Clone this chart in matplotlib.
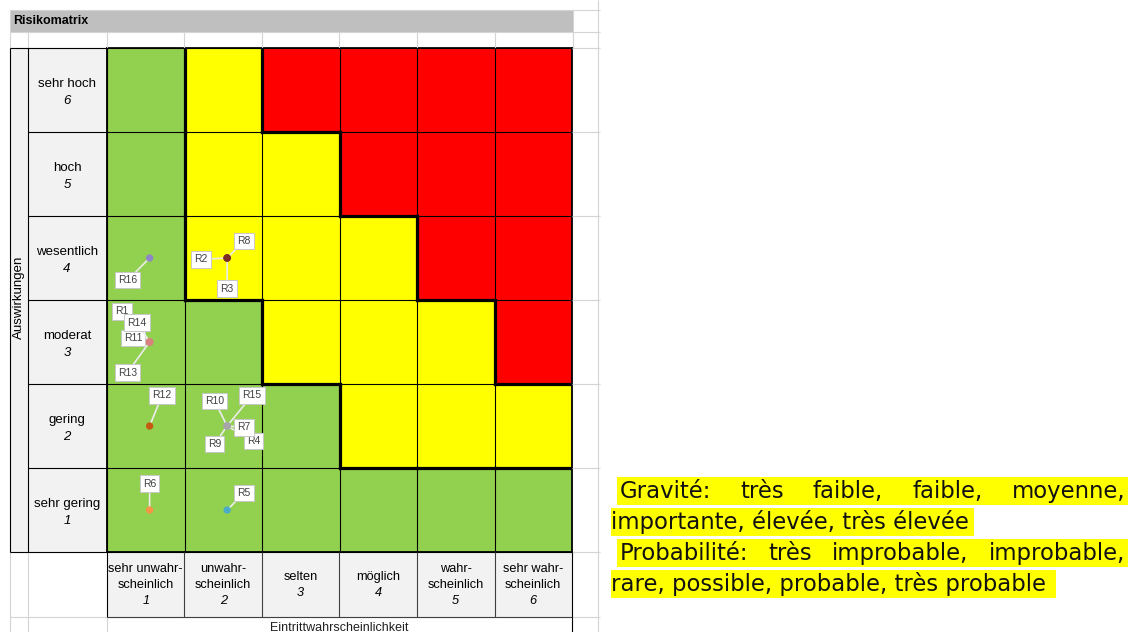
import numpy as np
import matplotlib
matplotlib.use('Agg')
import matplotlib.pyplot as plt
from matplotlib.transforms import Affine2D, blended_transform_factory
from matplotlib.lines import Line2D
from matplotlib.patches import Rectangle
from matplotlib.colors import ListedColormap

W, H = 1132, 632   # Size of the picture in pixels

# Axis categories (index 0 = level 1)
IMPACT_NAMES = ['sehr gering', 'gering', 'moderat', 'wesentlich', 'hoch', 'sehr hoch']
PROB_NAMES = ['sehr unwahr-\nscheinlich', 'unwahr-\nscheinlich', 'selten', 'möglich',
              'wahr-\nscheinlich', 'sehr wahr-\nscheinlich']

# Zone of every cell: rows = impact 1..6, columns = probability 1..6
# 0 = green, 1 = yellow, 2 = red
LEVELS = [
    [0, 0, 0, 0, 0, 0],
    [0, 0, 0, 1, 1, 1],
    [0, 0, 1, 1, 1, 2],
    [0, 1, 1, 1, 2, 2],
    [0, 1, 1, 2, 2, 2],
    [0, 1, 2, 2, 2, 2],
]

# The risks placed on the matrix
RISKS = ['R1', 'R2', 'R3', 'R4', 'R5', 'R6', 'R7', 'R8', 'R9', 'R10',
         'R11', 'R12', 'R13', 'R14', 'R15', 'R16']
RISK_PROB = [1, 2, 2, 2, 2, 1, 2, 2, 2, 2, 1, 1, 1, 1, 2, 1]
RISK_IMPACT = [3, 4, 4, 2, 1, 1, 2, 4, 2, 2, 3, 2, 3, 3, 2, 4]

NOTE_LINES = ['Gravité: très faible, faible, moyenne,',
              'importante, élevée, très élevée',
              'Probabilité: très improbable, improbable,',
              'rare, possible, probable, très probable']

# Styles
ZONE_COLORS = ['#92d050', '#ffff00', '#ff0000']
RISK_COLORS = {'R1': '#d9827f', 'R11': '#d9827f', 'R13': '#d9827f', 'R14': '#d9827f',
               'R2': '#7b2d26', 'R3': '#7b2d26', 'R8': '#7b2d26',
               'R4': '#a6a6a6', 'R7': '#a6a6a6', 'R9': '#a6a6a6', 'R10': '#a6a6a6',
               'R15': '#a6a6a6', 'R5': '#4bacc6', 'R6': '#f79646', 'R12': '#c55a11',
               'R16': '#8e86c6'}
# Label offsets from the point, in points
LABEL_OFFSETS = {'R16': (-16, -16), 'R2': (-19, -1), 'R8': (12, 12), 'R3': (0, -22),
                 'R1': (-20, 22), 'R14': (-9, 14), 'R11': (-12, 3), 'R13': (-16, -22),
                 'R12': (9, 22), 'R10': (-9, 18), 'R15': (18, 22), 'R7': (12, -1),
                 'R4': (19, -11), 'R9': (-9, -13), 'R6': (0, 19), 'R5': (12, 12)}
LIGHT = '#d4d4d4'
TABLE_FONT = 'Liberation Sans'
NOTE_FONT = 'DejaVu Sans'

fig = plt.figure(figsize=(W / 100, H / 100), dpi=100)
# Pixel coordinates with y going down, used for the spreadsheet frame
px = Affine2D().scale(1 / W, -1 / H).translate(0, 1) + fig.transFigure


def line(x0, y0, x1, y1, color='black', lw=0.8, z=1):
    fig.add_artist(Line2D([x0, x1], [y0, y1], transform=px, color=color, lw=lw,
                          zorder=z, solid_capstyle='butt'))


def box(x0, y0, x1, y1, color):
    fig.add_artist(Rectangle((x0, y0), x1 - x0, y1 - y0, transform=px,
                             facecolor=color, edgecolor='none', zorder=0))


# First, the spreadsheet frame around the matrix
box(10, 10, 573, 32, '#bfbfbf')
box(10, 48, 107, 552, '#f2f2f2')
box(107, 552, 572, 617, '#f2f2f2')
col_edges = [10, 28, 107, 184, 262, 339, 417, 495, 573]
for y in [10, 32, 48, 617]:
    line(10, y, 600, y, LIGHT)
for y in [132, 216, 300, 384, 468, 552]:
    line(572, y, 600, y, LIGHT)
for x in col_edges:
    line(x, 32, x, 48, LIGHT)
line(10, 10, 10, 32, LIGHT)
line(573, 10, 573, 32, LIGHT)
line(598, 0, 598, 632, LIGHT)
line(10, 552, 10, 632, LIGHT)
line(28, 552, 28, 632, LIGHT)
line(107, 617, 107, 632, LIGHT)

# Black borders of the label cells
line(10, 48, 572, 48)
line(10, 552, 572, 552)
line(10, 48, 10, 552)
line(28, 48, 28, 552)
line(107, 48, 107, 617)
line(572, 552, 572, 632)
line(107, 617, 572, 617, '#404040')
for x in col_edges[3:-1]:
    line(x, 552, x, 617, '#404040')
for y in [132, 216, 300, 384, 468]:
    line(28, y, 107, y)

fig.text(13, 21, 'Risikomatrix', transform=px, fontsize=9, fontweight='bold',
         family=TABLE_FONT, ha='left', va='center')
fig.text(19, 297, 'Auswirkungen', transform=px, fontsize=9.5, family=TABLE_FONT,
         rotation=90, ha='center', va='center')
fig.text(339, 628, 'Eintrittwahrscheinlichkeit', transform=px, fontsize=9,
         family=TABLE_FONT, ha='center', va='center', color='#202020')

# Now the matrix itself
ax = fig.add_axes([107 / W, (H - 552) / H, 465 / W, 504 / H])
ax.pcolormesh(np.arange(7), np.arange(7), np.array(LEVELS),
              cmap=ListedColormap(ZONE_COLORS), vmin=-0.5, vmax=2.5, zorder=0)
ax.set_xlim(0, 6)
ax.set_ylim(0, 6)
ax.set_xticks([])
ax.set_yticks([])
for s in ax.spines.values():
    s.set_color('black')
    s.set_linewidth(1.3)
ax.vlines(range(1, 6), 0, 6, color='black', lw=0.8, zorder=1)
ax.hlines(range(1, 6), 0, 6, color='black', lw=0.8, zorder=1)

# Thick lines where the zone changes
for r in range(6):
    for c in range(6):
        if c < 5 and LEVELS[r][c] != LEVELS[r][c + 1]:
            ax.plot([c + 1, c + 1], [r, r + 1], color='black', lw=2.3,
                    solid_capstyle='projecting', zorder=2)
        if r < 5 and LEVELS[r][c] != LEVELS[r + 1][c]:
            ax.plot([c, c + 1], [r + 1, r + 1], color='black', lw=2.3,
                    solid_capstyle='projecting', zorder=2)

# Row labels (impact) and column labels (probability)
row_trans = blended_transform_factory(px, ax.transData)
for i, name in enumerate(IMPACT_NAMES):
    ax.annotate(name, xy=(67, i + 0.5), xycoords=row_trans, xytext=(0, 4),
                textcoords='offset points', ha='center', va='center',
                fontsize=9.5, family=TABLE_FONT, annotation_clip=False)
    ax.annotate(str(i + 1), xy=(67, i + 0.5), xycoords=row_trans, xytext=(0, -8),
                textcoords='offset points', ha='center', va='center',
                fontsize=9.5, family=TABLE_FONT, style='italic', annotation_clip=False)

col_trans = blended_transform_factory(ax.transData, px)
for p, name in enumerate(PROB_NAMES):
    lines = name.split('\n') + [str(p + 1)]
    n = len(lines)
    for k, txt in enumerate(lines):
        dy = ((n - 1) / 2 - k) * 16.5 * 0.72
        ax.annotate(txt, xy=(p + 0.5, 585), xycoords=col_trans, xytext=(0, dy),
                    textcoords='offset points', ha='center', va='center',
                    fontsize=9.2, family=TABLE_FONT,
                    style='italic' if k == n - 1 else 'normal',
                    annotation_clip=False)

# The risks with their label boxes
xs = np.array(RISK_PROB) - 0.45
ys = np.array(RISK_IMPACT) - 0.5
for name, x, y in zip(RISKS, xs, ys):
    ax.annotate(name, xy=(x, y), xytext=LABEL_OFFSETS[name], textcoords='offset points',
                ha='center', va='center', fontsize=7.5, color='#404040',
                family=TABLE_FONT, zorder=4,
                bbox=dict(boxstyle='square,pad=0.3', fc='white', ec='#c8c8c8', lw=0.7),
                arrowprops=dict(arrowstyle='-', color='#ececec', lw=1.2,
                                shrinkA=0, shrinkB=0))
ax.scatter(xs, ys, s=28, c=[RISK_COLORS[n] for n in RISKS], zorder=6,
           edgecolors='none')

# Finally, the highlighted French note on the right
fig.canvas.draw()
renderer = fig.canvas.get_renderer()

# Pick the font size so the second line is as wide as in the original
probe = fig.text(0, 0, NOTE_LINES[1], fontsize=16, family=NOTE_FONT)
note_size = 16 * 358 / probe.get_window_extent(renderer).width
probe.remove()

for k, txt in enumerate(NOTE_LINES):
    yc = 491 + 31 * k
    base = yc + 7   # baseline of the line, in pixels from the top
    if k % 2 == 0:
        # Justified line between both edges
        box(617, yc - 14, 1128, yc + 14, '#ffff00')
        words = txt.split()
        items = [fig.text(0, base, w, transform=px, fontsize=note_size, family=NOTE_FONT,
                          ha='left', va='baseline', color='#111111') for w in words]
        widths = [t.get_window_extent(renderer).width for t in items]
        gap = (1125 - 620 - sum(widths)) / (len(words) - 1)
        x = 620
        for t, w in zip(items, widths):
            t.set_x(x)
            x += w + gap
    else:
        t = fig.text(611, base, txt, transform=px, fontsize=note_size, family=NOTE_FONT,
                     ha='left', va='baseline', color='#111111')
        w = t.get_window_extent(renderer).width
        pad = 10 if k == 3 else 5
        box(611, yc - 14, 611 + w + pad, yc + 14, '#ffff00')

fig.savefig('out.png', dpi=100)
plt.close()
